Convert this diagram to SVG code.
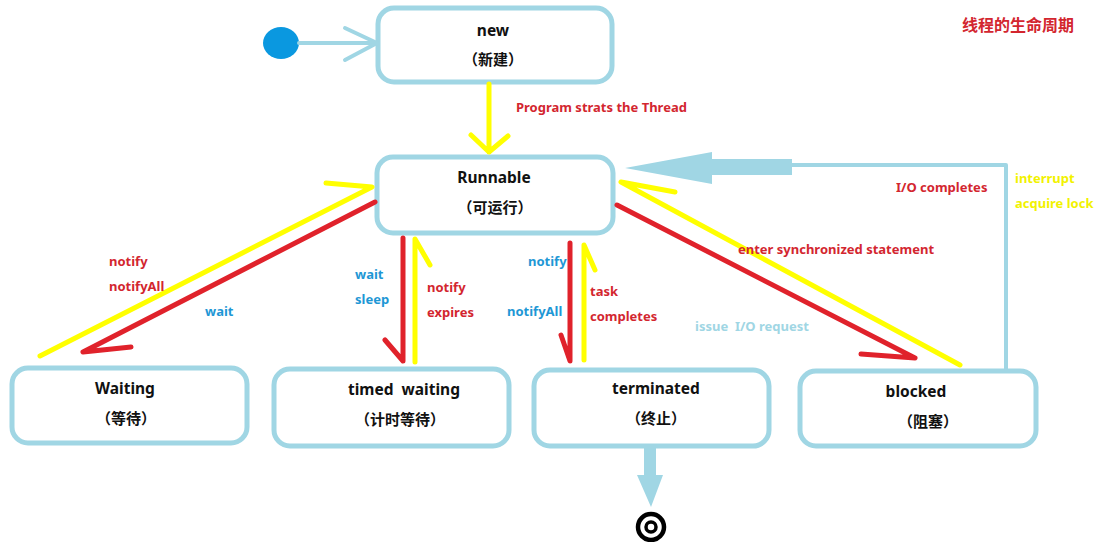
<svg xmlns="http://www.w3.org/2000/svg" width="1115" height="542" viewBox="0 0 1115 542">
<style>
.box{fill:#fff;stroke:#a0d6e4;stroke-width:5}
.t{font-family:"Noto Sans","Noto Sans CJK SC",sans-serif;font-weight:bold;fill:#111;text-anchor:middle}
.tn{font-size:15.5px}
.tc{font-size:15px}
.lb{font-family:"Noto Sans","Noto Sans CJK SC",sans-serif;font-weight:bold;font-size:13px}
.red{fill:#d3262f}
.blue{fill:#1e97d5}
.yel{fill:#f2f200}
.lblue{fill:#a0d6e4}
.ly{stroke:#ffff00;stroke-width:5;fill:none;stroke-linecap:round;stroke-linejoin:round}
.lr{stroke:#e0222b;stroke-width:5;fill:none;stroke-linecap:round;stroke-linejoin:round}
.lbl{stroke:#a0d6e4;stroke-width:4;fill:none;stroke-linecap:round;stroke-linejoin:round}
</style>
<rect width="1115" height="542" fill="#fff"/>
<text class="lb red" x="962" y="31" style="font-size:16px">线程的生命周期</text>
<g id="start"><ellipse cx="281" cy="43" rx="18" ry="16" fill="#0a98e0"/></g>
<g id="new"><rect class="box" x="378" y="8" width="234" height="74" rx="16"/><text class="t tn" x="493" y="36">new</text><text class="t tc" x="493" y="65">（新建）</text></g>
<g id="runnable"><rect class="box" x="377" y="157" width="236" height="76" rx="16"/><text class="t tn" x="494" y="183">Runnable</text><text class="t tc" x="495" y="213">（可运行）</text></g>
<g id="waiting"><rect class="box" x="12" y="368" width="235" height="75" rx="16"/><text class="t tn" x="125" y="394">Waiting</text><text class="t tc" x="126" y="424">（等待）</text></g>
<g id="timed"><rect class="box" x="274" y="369" width="235" height="77" rx="16"/><text class="t tn" x="404" y="395" style="white-space:pre">timed  waiting</text><text class="t tc" x="400" y="425">（计时等待）</text></g>
<g id="terminated"><rect class="box" x="534" y="370" width="235" height="76" rx="16"/><text class="t tn" x="656" y="394">terminated</text><text class="t tc" x="656" y="424">（终止）</text></g>
<g id="blocked"><rect class="box" x="800" y="371" width="236" height="75" rx="16"/><text class="t tn" x="916" y="397">blocked</text><text class="t tc" x="928" y="427">（阻塞）</text></g>
<g id="end"><circle cx="651" cy="527" r="13" fill="#fff" stroke="#000" stroke-width="4.5"/><circle cx="651" cy="527" r="5" fill="#fff" stroke="#000" stroke-width="3.5"/></g>
<g id="connectors">
<path class="lbl" d="M299 43 H376 M345 28 L377 43 L345 60"/>
<path class="ly" d="M489 84 V152 M471 135 L489 152 L508 136"/>
<path class="ly" d="M40 356 L372 187 L326 183"/>
<path class="lr" d="M375 202 L83 352 L131 347"/>
<path class="lr" d="M403 238 V361 L385 340"/>
<path class="ly" d="M415 362 V239 L430 265"/>
<path class="lr" d="M570 243 V361 L561 335"/>
<path class="ly" d="M584 360 V245 L595 270"/>
<path class="ly" d="M960 365 L621 182 L675 192"/>
<path class="lr" d="M617 205 L915 358 L861 354"/>
<path class="lbl" d="M1006 369 V165 H790"/>
<rect x="705" y="159" width="87" height="16" fill="#a0d6e4"/>
<polygon points="625,168 712,152 712,184" fill="#a0d6e4"/>
<rect x="644" y="448" width="12" height="28" fill="#a0d6e4"/>
<polygon points="637,475 663,475 651,507" fill="#a0d6e4"/>
</g>
<g id="labels">
<text class="lb red" x="516" y="112">Program strats the Thread</text>
<text class="lb red" x="109" y="266">notify</text>
<text class="lb red" x="109" y="291">notifyAll</text>
<text class="lb blue" x="205" y="316">wait</text>
<text class="lb blue" x="355" y="279">wait</text>
<text class="lb blue" x="355" y="304">sleep</text>
<text class="lb red" x="427" y="292">notify</text>
<text class="lb red" x="427" y="317">expires</text>
<text class="lb blue" x="528" y="266">notify</text>
<text class="lb blue" x="507" y="316">notifyAll</text>
<text class="lb red" x="590" y="296">task</text>
<text class="lb red" x="590" y="321">completes</text>
<text class="lb red" x="896" y="192">I/O completes</text>
<text class="lb yel" x="1015" y="183">interrupt</text>
<text class="lb yel" x="1015" y="208">acquire lock</text>
<text class="lb red" x="738" y="254">enter synchronized statement</text>
<text class="lb lblue" x="695" y="331" style="white-space:pre">issue  I/O request</text>
</g>
</svg>
